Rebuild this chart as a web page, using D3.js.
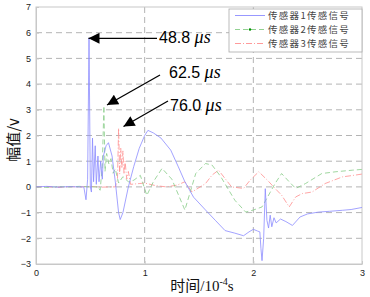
<!DOCTYPE html>
<html><head><meta charset="utf-8">
<script src="https://cdn.jsdelivr.net/npm/d3@7"></script>
<style>body{margin:0;background:#fff}svg{display:block}</style>
</head><body>
<script>
// time in 1e-4 s, amplitude in V
const s1t = [0,0.1,0.2,0.3,0.4,0.44,0.46,0.475,0.488,0.50,0.51,0.52,0.53,0.545,0.555,0.57,0.58,0.595,0.61,0.62,0.645,0.667,0.70,0.73,0.76,0.775,0.80,0.85,0.90,0.95,1.0,1.03,1.08,1.15,1.24,1.31,1.37,1.45,1.56,1.65,1.74,1.83,1.91,1.96,2.0,2.04,2.06,2.07,2.08,2.095,2.11,2.125,2.14,2.155,2.17,2.19,2.21,2.25,2.3,2.36,2.43,2.5,2.6,2.7,2.82,2.9,3.0];
const s1v = [0,0.02,-0.01,0.01,0,0,-0.5,0.3,5.8,0,-0.2,1.9,0.2,1.6,0.1,1.2,0.2,1.0,0.3,1.2,1.6,1.72,1.2,0.2,-1.0,-1.27,-1.0,0.0,0.8,1.5,2.0,2.2,2.1,1.9,1.43,0.78,0.2,-0.4,-0.9,-1.3,-1.7,-1.8,-1.9,-1.75,-1.65,-1.72,-1.75,-2.4,-2.87,-2.0,-0.07,-1.3,-1.6,-1.1,-1.55,-1.2,-1.4,-1.25,-1.35,-1.5,-1.17,-1.05,-0.98,-0.95,-0.91,-0.88,-0.8];
const s2t = [0,0.1,0.2,0.3,0.4,0.5,0.57,0.59,0.61,0.625,0.635,0.65,0.67,0.69,0.71,0.73,0.76,0.8,0.85,0.9,0.96,1.02,1.08,1.16,1.25,1.37,1.47,1.56,1.62,1.7,1.83,1.93,2.0,2.08,2.2,2.26,2.33,2.39,2.48,2.63,2.76,2.91,3.0];
const s2v = [0,-0.02,0.01,0,0.02,0,0,-0.13,0.8,3.15,0.6,1.3,0.9,1.1,0.53,0.7,0.15,0.4,0.2,0.26,0.45,-0.33,0.2,0.72,0.3,-0.9,0.52,0.91,0.85,0.4,-0.52,-0.98,-0.9,-0.78,0.13,0.52,0.2,-0.06,0.13,0.52,0.59,0.65,0.68];
const s3t = [0,0.1,0.2,0.3,0.4,0.5,0.6,0.7,0.73,0.75,0.76,0.77,0.78,0.79,0.80,0.81,0.82,0.835,0.85,0.87,0.95,1.0,1.1,1.2,1.3,1.37,1.435,1.56,1.62,1.68,1.8,1.91,1.97,2.05,2.13,2.2,2.26,2.33,2.39,2.45,2.54,2.66,2.82,2.94,3.0];
const s3v = [0,0.01,-0.02,0.01,0,0.02,-0.01,0,0,0.3,2.28,0.5,1.5,0.72,1.4,0.5,1.0,0.3,0.6,0.1,0.13,0.15,0.05,0,0.07,0.2,-0.2,0.13,0.46,0.65,0,-0.06,0.26,0.59,0.26,-0.06,-0.32,-0.78,-0.39,-0.26,-0.2,0.13,0.39,0.46,0.5];
const seriesNames = ["传感器1传感信号","传感器2传感信号","传感器3传感信号"];
const xTicks = [0,1,2,3];
const yTicks = [-3,-2,-1,0,1,2,3,4,5,6,7];
const notes = [
  {label:"48.8 ", tx:0.488, ty:5.8},
  {label:"62.5 ", tx:0.625, ty:3.15},
  {label:"76.0 ", tx:0.76, ty:2.28}
];

const W=370,H=297;
const m={l:36,t:7,r:362,b:264};
const svg=d3.select("body").append("svg").attr("width",W).attr("height",H);
const x=d3.scaleLinear().domain([0,3]).range([m.l,m.r]);
const y=d3.scaleLinear().domain([-3,7]).range([m.b,m.t]);

// grid
const g=svg.append("g");
g.selectAll(".gx").data(xTicks.slice(1,-1)).join("line")
 .attr("x1",d=>x(d)).attr("x2",d=>x(d)).attr("y1",m.t).attr("y2",m.b)
 .attr("stroke","#b4b4b4").attr("stroke-width",1).attr("stroke-dasharray","6,4");
g.selectAll(".gy").data(yTicks.slice(1,-1)).join("line")
 .attr("y1",d=>y(d)).attr("y2",d=>y(d)).attr("x1",m.l).attr("x2",m.r)
 .attr("stroke","#b4b4b4").attr("stroke-width",1).attr("stroke-dasharray","6,4");

// box
svg.append("rect").attr("x",m.l).attr("y",m.t).attr("width",m.r-m.l).attr("height",m.b-m.t)
 .attr("fill","none").attr("stroke","#c8c8c8").attr("stroke-width",1);

// axes
const xa=svg.append("g").attr("transform",`translate(0,${m.b})`)
 .call(d3.axisBottom(x).tickValues(xTicks).tickFormat(d3.format("d")).tickSizeInner(-3).tickSizeOuter(0).tickPadding(6));
const ya=svg.append("g").attr("transform",`translate(${m.l},0)`)
 .call(d3.axisLeft(y).tickValues(yTicks).tickFormat(d3.format("d")).tickSizeInner(-3).tickSizeOuter(0).tickPadding(5));
[xa,ya].forEach(a=>{a.select(".domain").attr("stroke","#c8c8c8");
 a.selectAll(".tick line").attr("stroke","#c8c8c8");
 a.selectAll("text").attr("font-family","Liberation Sans, Arial, sans-serif").attr("font-size",9).attr("fill","#222");});

// lines
const line=d3.line().x(d=>x(d[0])).y(d=>y(d[1]));
const styles=[
 {c:"#8c8cff",dash:null},
 {c:"#86cc86",dash:"5,3"},
 {c:"#ff8e8e",dash:"6,2,1,2"}
];
const sets=[d3.zip(s1t,s1v),d3.zip(s2t,s2v),d3.zip(s3t,s3v)];
[2,1,0].forEach(i=>{
 svg.append("path").datum(sets[i]).attr("d",line).attr("fill","none")
  .attr("stroke",styles[i].c).attr("stroke-width",0.8)
  .attr("stroke-dasharray",styles[i].dash);
});

// annotations
const defs=svg.append("defs");
defs.append("marker").attr("id","ah").attr("viewBox","0 0 10 10").attr("refX",10).attr("refY",5)
 .attr("markerWidth",14).attr("markerHeight",11).attr("markerUnits","userSpaceOnUse").attr("orient","auto")
 .append("path").attr("d","M0,0L10,5L0,10Z").attr("fill","#000");
const arrows=[
 {x1:157,y1:38.3,x2:88.5,y2:38.3,lx:159,ly:43},
 {x1:160,y1:75,x2:107,y2:105,lx:169,ly:77.5},
 {x1:168,y1:101,x2:123.5,y2:126.5,lx:170,ly:110.5}
];
notes.forEach((n,i)=>{
 const a=arrows[i];
 svg.append("line").attr("x1",a.x1).attr("y1",a.y1).attr("x2",a.x2).attr("y2",a.y2)
  .attr("stroke","#000").attr("stroke-width",1.3).attr("marker-end","url(#ah)");
 const t=svg.append("text").attr("x",a.lx).attr("y",a.ly)
  .attr("font-family","Liberation Sans, Arial, sans-serif").attr("font-size",16).attr("fill","#000");
 t.append("tspan").text(n.label);
 t.append("tspan").attr("font-family","Liberation Serif, Times New Roman, serif").attr("font-style","italic").attr("font-size",18).text("μs");
});

// legend
const L={x:229,y:9,w:133,h:43};
svg.append("rect").attr("x",L.x).attr("y",L.y).attr("width",L.w).attr("height",L.h)
 .attr("fill","#fff").attr("stroke","#aaa").attr("stroke-width",0.8);
seriesNames.forEach((nm,i)=>{
 const yy=L.y+6.5+i*14;
 svg.append("line").attr("x1",L.x+6).attr("x2",L.x+36).attr("y1",yy).attr("y2",yy)
  .attr("stroke",styles[i].c).attr("stroke-width",0.9).attr("stroke-dasharray",styles[i].dash);
 if(i===1) svg.append("circle").attr("cx",L.x+21).attr("cy",yy).attr("r",1.2).attr("fill","#009000");
 svg.append("text").attr("x",L.x+39).attr("y",yy+3.5).text(nm)
  .attr("font-family","Noto Sans CJK SC, sans-serif").attr("font-size",9.5).attr("letter-spacing",1.3).attr("fill","#444");
});

// axis labels
svg.append("text").attr("transform",`translate(19,140) rotate(-90)`).attr("text-anchor","middle")
 .attr("font-family","Noto Sans CJK SC, sans-serif").attr("font-size",15).attr("fill","#111").text("幅值/v");
const xl=svg.append("text").attr("x",202).attr("y",291).attr("text-anchor","middle")
 .attr("font-family","Liberation Serif, Noto Sans CJK SC, serif").attr("font-size",15).attr("fill","#111");
xl.append("tspan").text("时间/10");
xl.append("tspan").attr("dy",-6).attr("font-size",10).text("-4");
xl.append("tspan").attr("dy",6).text("s");
</script>
</body></html>
